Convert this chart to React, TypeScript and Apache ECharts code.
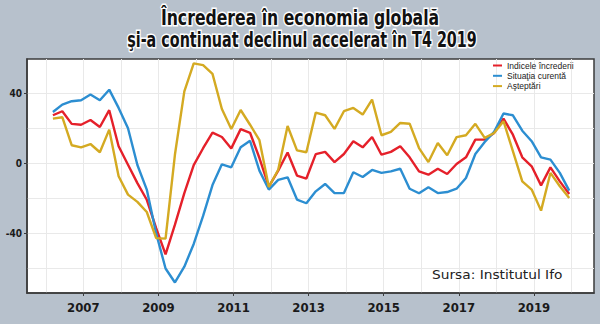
import React, { useEffect, useRef } from "react";
import * as echarts from "echarts";

// ---- Data ----
const years = [2006, 2007, 2008, 2009, 2010, 2011, 2012, 2013, 2014, 2015, 2016, 2017, 2018, 2019];
const quarterLabels: string[] = years.flatMap((y) => [1, 2, 3, 4].map((q) => `T${q} ${y}`));
// survey point lies ~0.19 years into each quarter
const POINT_OFFSET = 0.19;

const indiceIncrederii = [
  27.4, 29.7, 22.5, 22, 24.7, 20.7, 30.3, 9.7, -0.8, -11.3, -20.8, -37, -52, -35,
  -17, -1, 8.6, 17.5, 15, 8.5, 19.5, 17.4, 3, -13.3, -4.2, 6.2, -7, -8.7,
  5.2, 6.5, 0.7, 5.3, 12.6, 9.1, 15, 4.9, 6.5, 9.7, 3.4, -4.6, -6.5, -3.1,
  -6.1, -0.4, 3.4, 13.5, 13.5, 17.3, 25.5, 16.3, 3.4, -1.7, -12.6, -2.3, -10.3, -17.5,
];
const situatiaCurenta = [
  29.3, 33.5, 35.4, 36, 39.2, 36, 42, 31.6, 20, -1, -15, -40, -60, -68,
  -59, -46, -30, -12.4, -0.6, -2.3, 9.1, 12.8, -4.2, -15, -9.5, -8, -20.7, -22.8,
  -16, -11.8, -17, -17, -5.1, -7.8, -3.8, -5.5, -4.6, -3.1, -14.5, -17.1, -13.7, -17,
  -16.4, -14.5, -8.4, 5.3, 12.2, 17.9, 28.4, 27.4, 18.6, 12.6, 3.4, 2.1, -5.5, -15.6,
];
const asteptari = [
  25.5, 26.3, 10.3, 9.1, 11, 6.3, 19.2, -7.4, -17.9, -22, -27.8, -42.7, -43, 5,
  41, 57, 56, 51, 31, 19.6, 30.4, 22, 13.2, -13.5, -3.7, 21.3, 7.4, 6.3,
  28.9, 27.4, 19.6, 29.7, 31.6, 27.8, 36.3, 16, 17.9, 23, 22.6, 8.7, 0.7, 11.6,
  4.6, 14.9, 16, 22.5, 14.5, 17.3, 24, 6.9, -10.3, -15, -27, -5.5, -13.1, -19.8,
];

const seriesNames = ["Indicele încrederii", "Situaţia curentă", "Aşteptări"];
const seriesColors = ["#e5202a", "#2c8ed1", "#d4aa22"];

const yLabelValues = [-40, 0, 40];
const yGridValues = [-60, -40, -20, 0, 20, 40];
const xLabelValues = [2007, 2009, 2011, 2013, 2015, 2017, 2019];
const xGridValues = [2006, 2007, 2008, 2009, 2010, 2011, 2012, 2013, 2014, 2015, 2016, 2017, 2018, 2019, 2020];

const titleLine1 = "Încrederea în economia globală";
const titleLine2 = "şi-a continuat declinul accelerat în T4 2019";
const sourceText = "Sursa: Institutul Ifo";

const NARROW = '"Liberation Sans Narrow", "DejaVu Sans Condensed", sans-serif';
const SANS = '"Liberation Sans", Arial, sans-serif';

function quarterToX(label: string): number {
  const [qs, ys] = label.split(" ");
  const q = parseInt(qs.slice(1), 10);
  return parseInt(ys, 10) + (q - 1) / 4 + POINT_OFFSET;
}

function toPoints(values: number[]) {
  return quarterLabels.map((lab, i) => [quarterToX(lab), values[i]]);
}

export default function App() {
  const ref = useRef<HTMLDivElement>(null);
  useEffect(() => {
    if (!ref.current) return;
    const chart = echarts.init(ref.current, null, { renderer: "svg" });
    const axisColor = "#3b3b3b";
    const gridColor = "#e9e9e9";
    const allSeries = [indiceIncrederii, situatiaCurenta, asteptari];
    chart.setOption({
      animation: false,
      backgroundColor: "#b7c1cc",
      grid: {
        left: 27,
        right: 6,
        top: 59,
        bottom: 31,
        show: true,
        backgroundColor: "#ffffff",
        borderColor: axisColor,
        borderWidth: 1.5,
      },
      xAxis: [
        {
          type: "value",
          min: 2005.5,
          max: 2020.6,
          position: "bottom",
          axisLine: { show: true, onZero: false, lineStyle: { color: axisColor, width: 1.5 } },
          axisTick: { show: true, customValues: xLabelValues, length: 3, lineStyle: { color: axisColor } },
          axisLabel: {
            customValues: xLabelValues,
            formatter: (v: number) => String(Math.round(v)),
            fontFamily: NARROW,
            fontWeight: "bold",
            fontSize: 13,
            color: "#1a1a1a",
            margin: 8,
          },
          splitLine: { show: false },
        },
        {
          type: "value",
          min: 2005.5,
          max: 2020.6,
          position: "bottom",
          axisLine: { show: false },
          axisTick: { show: false, customValues: xGridValues },
          axisLabel: { show: false },
          splitLine: { show: true, lineStyle: { color: gridColor, width: 1 } },
        },
      ],
      yAxis: [
        {
          type: "value",
          min: -74,
          max: 59.5,
          position: "left",
          axisLine: { show: true, onZero: false, lineStyle: { color: axisColor, width: 1.5 } },
          axisTick: { show: true, customValues: yLabelValues, length: 3, lineStyle: { color: axisColor } },
          axisLabel: {
            customValues: yLabelValues,
            formatter: (v: number) => String(Math.round(v)),
            fontFamily: NARROW,
            fontWeight: "bold",
            fontSize: 10,
            color: "#1a1a1a",
            margin: 5,
          },
          splitLine: { show: false },
        },
        {
          type: "value",
          min: -74,
          max: 59.5,
          position: "left",
          axisLine: { show: false },
          axisTick: { show: false, customValues: yGridValues },
          axisLabel: { show: false },
          splitLine: { show: true, lineStyle: { color: gridColor, width: 1 } },
        },
      ],
      legend: {
        orient: "vertical",
        left: 493,
        top: 61,
        icon: "rect",
        itemWidth: 9,
        itemHeight: 2,
        itemGap: 1.3,
        padding: 0,
        textStyle: { fontSize: 8.5, fontFamily: SANS, color: "#222", lineHeight: 8 },
        data: seriesNames,
      },
      series: allSeries.map((vals, i) => ({
        name: seriesNames[i],
        type: "line",
        xAxisIndex: 0,
        yAxisIndex: 0,
        data: toPoints(vals),
        symbol: "none",
        lineStyle: { color: seriesColors[i], width: 2.4 },
        itemStyle: { color: seriesColors[i] },
      })),
      graphic: [
        {
          type: "text",
          x: 300,
          y: 17.5,
          scaleX: 0.83,
          z: 100,
          style: {
            text: titleLine1,
            font: `bold 21px ${NARROW}`,
            fill: "#111",
            stroke: "#ffffff",
            lineWidth: 3,
            align: "center",
            verticalAlign: "middle",
          },
        },
        {
          type: "text",
          x: 302,
          y: 39.5,
          scaleX: 0.76,
          z: 100,
          style: {
            text: titleLine2,
            font: `bold 21px ${NARROW}`,
            fill: "#111",
            stroke: "#ffffff",
            lineWidth: 3,
            align: "center",
            verticalAlign: "middle",
          },
        },
        {
          type: "text",
          x: 432,
          y: 275,
          scaleX: 1.1,
          z: 100,
          style: {
            text: sourceText,
            font: `12.5px "DejaVu Sans"`,
            fill: "#222",
            align: "left",
            verticalAlign: "middle",
          },
        },
      ],
    });
    return () => chart.dispose();
  }, []);
  return (
    <div
      ref={ref}
      style={{ position: "fixed", left: 0, top: 0, width: 600, height: 324 }}
    />
  );
}
